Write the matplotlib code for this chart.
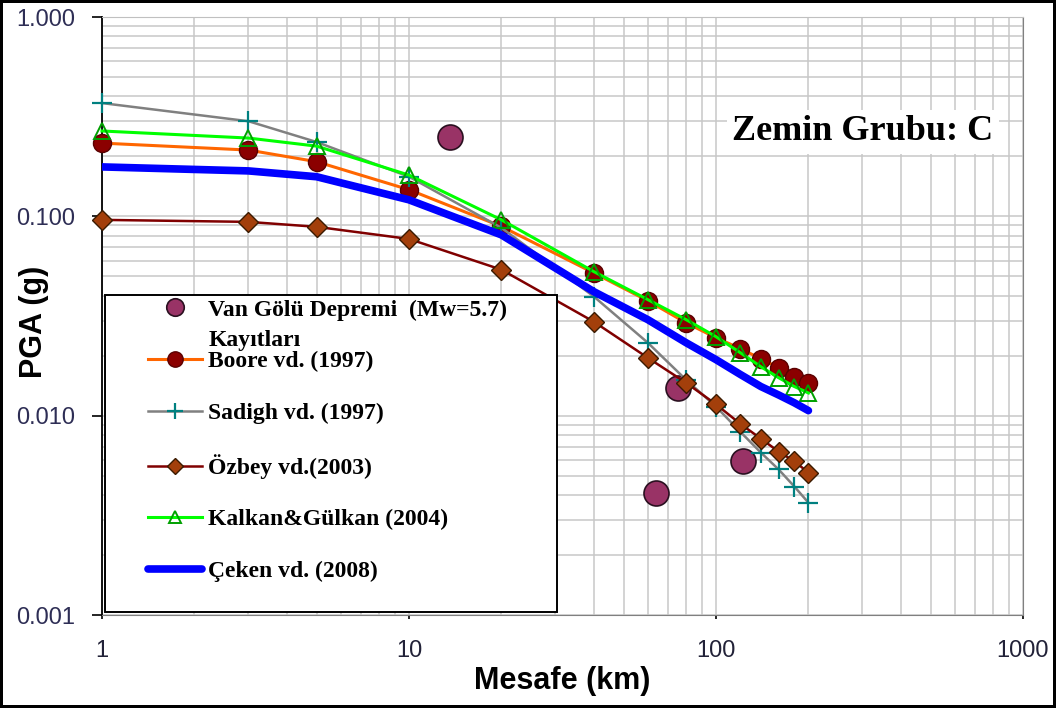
import numpy as np
import matplotlib.pyplot as plt
from matplotlib.lines import Line2D
from matplotlib.patches import Rectangle
from matplotlib.ticker import FixedLocator, LogLocator, NullFormatter

# distances (km) at which the attenuation relations are evaluated
distance = [1, 3, 5, 10, 20, 40, 60, 80, 100, 120, 140, 160, 180, 200]

# PGA (g) predicted by each relation
boore = [0.233, 0.215, 0.188, 0.136, 0.089, 0.052, 0.0377, 0.0292, 0.0246,
         0.0217, 0.0193, 0.0174, 0.0157, 0.0146]
sadigh = [0.37, 0.30, 0.236, 0.158, 0.0876, 0.0396, 0.0232, 0.0151, 0.0111,
          0.0083, 0.00653, 0.00537, 0.00441, 0.00366]
ozbey = [0.096, 0.0938, 0.0886, 0.077, 0.054, 0.0296, 0.0195, 0.0146, 0.0114,
         0.0091, 0.00767, 0.0066, 0.0059, 0.00518]
kalkan = [0.268, 0.247, 0.225, 0.161, 0.096, 0.0528, 0.0382, 0.0303, 0.0249,
          0.0207, 0.0176, 0.0155, 0.014, 0.013]
ceken = [0.177, 0.169, 0.158, 0.121, 0.0807, 0.0419, 0.0303, 0.0232, 0.0191,
         0.0161, 0.014, 0.0127, 0.0116, 0.0106]

# recorded Van Golu earthquake stations
van_dist = [13.6, 63.8, 75.2, 122.4]
van_pga = [0.25, 0.0041, 0.0137, 0.0059]

x_ticks = [1, 10, 100, 1000]
y_ticks = [0.001, 0.01, 0.1, 1.0]
y_tick_labels = ['0.001', '0.010', '0.100', '1.000']

fig = plt.figure(figsize=(10.56, 7.08), dpi=100)
fig.patch.set_edgecolor('black')
fig.patch.set_linewidth(3)
ax = fig.add_axes([102 / 1056, 1 - 615 / 708, 921 / 1056, 598 / 708])

ax.set_xscale('log')
ax.set_yscale('log')
ax.set_xlim(1, 1000)
ax.set_ylim(0.001, 1.0)

van, = ax.plot(van_dist, van_pga, 'o', ms=18, mfc='#993366', mec='#2a1020',
               mew=1.2, clip_on=False, zorder=3)
l_boore, = ax.plot(distance, boore, '-o', color='#ff6600', lw=2.2, ms=13,
                   mfc='#8b0000', mec='#5a0000', clip_on=False, zorder=3)
l_sadigh, = ax.plot(distance, sadigh, '-+', color='#808080', lw=1.8, ms=14,
                    mec='#008080', mew=1.6, clip_on=False, zorder=3)
l_ozbey, = ax.plot(distance, ozbey, '-D', color='#800000', lw=1.8, ms=10,
                   mfc='#a33f0b', mec='#3a1a00', mew=1.0, clip_on=False, zorder=3)
l_kalkan, = ax.plot(distance, kalkan, '-^', color='#00ff00', lw=2.2, ms=11,
                    mfc='none', mec='#00a000', mew=1.4, clip_on=False, zorder=3)
l_ceken, = ax.plot(distance, ceken, '-', color='#0000ff', lw=5.5,
                   solid_capstyle='round', zorder=3)

# grid on every decade and sub-decade
ax.xaxis.set_major_locator(FixedLocator(x_ticks))
ax.xaxis.set_minor_locator(LogLocator(base=10, subs=np.arange(2, 10)))
ax.xaxis.set_minor_formatter(NullFormatter())
ax.set_xticklabels([str(t) for t in x_ticks])
ax.yaxis.set_major_locator(FixedLocator(y_ticks))
ax.yaxis.set_minor_locator(LogLocator(base=10, subs=np.arange(2, 10)))
ax.yaxis.set_minor_formatter(NullFormatter())
ax.set_yticklabels(y_tick_labels)
ax.grid(True, which='both', color='#c8c8c8', lw=1.1, zorder=0)
ax.set_axisbelow(True)

ax.tick_params(which='minor', length=0)
ax.tick_params(axis='y', which='major', length=7, width=1.2, color='black',
               pad=12, labelsize=17, labelcolor='#2e2e55')
ax.tick_params(axis='x', which='major', length=3, width=1.2, color='black',
               pad=15, labelsize=17, labelcolor='#222238')
for lab in ax.get_xticklabels() + ax.get_yticklabels():
    lab.set_family('Liberation Sans')

ax.spines['left'].set_color('black')
ax.spines['left'].set_linewidth(1.3)
ax.spines['bottom'].set_color('#808080')
ax.spines['right'].set_color('#808080')
ax.spines['top'].set_color('#c0c0c0')

ax.set_xlabel('Mesafe (km)', fontsize=22, fontweight='bold',
              family='Liberation Sans', labelpad=3)
ax.set_ylabel('PGA (g)', fontsize=22, fontweight='bold',
              family='Liberation Sans')
# the y label sits between the tick labels, not left of them
ax.yaxis.set_label_coords(-53 / 921, 0.49)

ax.text(0.684, 0.808, 'Zemin Grubu: C', transform=ax.transAxes,
        fontsize=26, fontweight='bold', family='Liberation Serif',
        va='center', ha='left', zorder=4,
        bbox=dict(facecolor='white', edgecolor='none', pad=4))

# legend frame, with the entries laid out in two blocks inside it
ax.add_patch(Rectangle((3 / 921, 3 / 598), 452 / 921, 317 / 598,
                       transform=ax.transAxes, facecolor='white',
                       edgecolor='black', lw=1.4, zorder=5))

font = {'family': 'Liberation Serif', 'weight': 'bold', 'size': 17}
blank = Line2D([], [], linestyle='none', marker='none')
leg_top = ax.legend([van, blank],
                    ['Van Gölü Depremi  (Mw=5.7)', 'Kayıtları'],
                    loc='upper left', bbox_to_anchor=(46 / 921, 316 / 598),
                    frameon=False, prop=font, borderpad=0, borderaxespad=0,
                    handlelength=2.3, handletextpad=0.25, labelspacing=0.36,
                    markerscale=0.7)
leg_top.set_zorder(6)
ax.add_artist(leg_top)

leg = ax.legend([l_boore, l_sadigh, l_ozbey, l_kalkan, l_ceken],
                ['Boore vd. (1997)', 'Sadigh vd. (1997)', 'Özbey vd.(2003)',
                 'Kalkan&Gülkan (2004)', 'Çeken vd. (2008)'],
                loc='upper left', bbox_to_anchor=(46 / 921, 264 / 598),
                frameon=False, prop=font, borderpad=0, borderaxespad=0,
                handlelength=2.3, handletextpad=0.25, labelspacing=1.27,
                markerscale=0.85)
leg.set_zorder(6)

fig.savefig('out.png', dpi=100)
